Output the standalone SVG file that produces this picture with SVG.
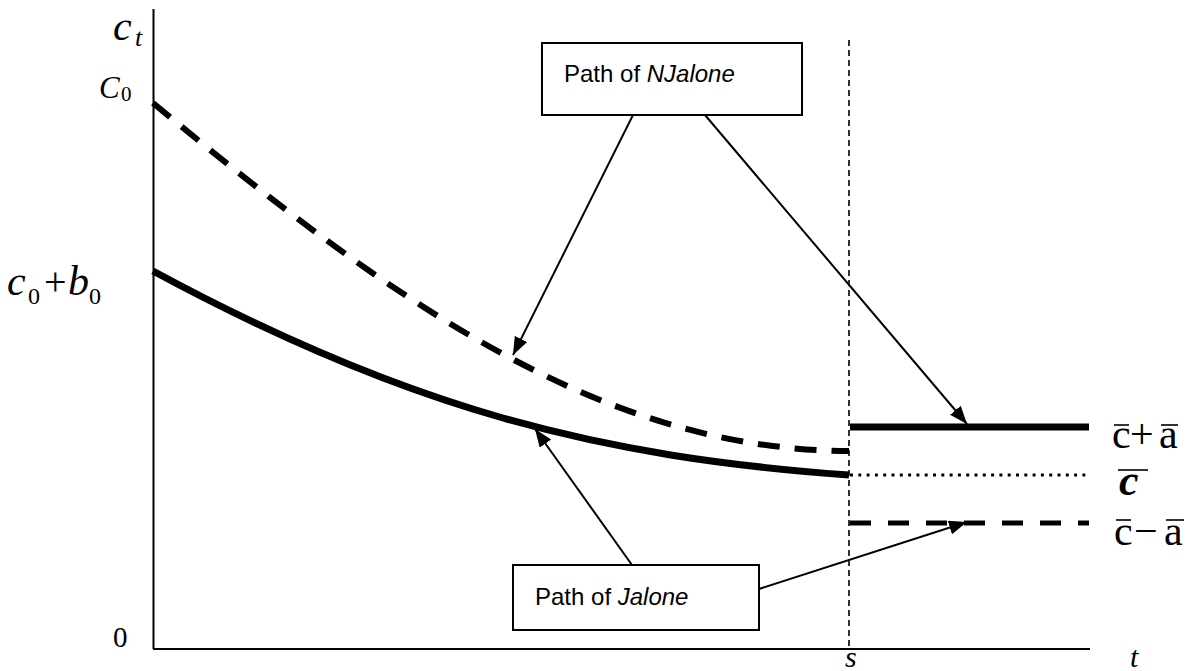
<svg xmlns="http://www.w3.org/2000/svg" width="1194" height="671" viewBox="0 0 1194 671">
<style>
.axis{stroke:#000;stroke-width:2;fill:none}
.vdash{stroke:#000;stroke-width:1.6;stroke-dasharray:6 4;fill:none}
.curve-dash{stroke:#000;stroke-width:6;stroke-dasharray:22 15;fill:none}
.curve-solid{stroke:#000;stroke-width:7;fill:none}
.hsolid{stroke:#000;stroke-width:7;fill:none}
.hdot{stroke:#000;stroke-width:3;stroke-dasharray:3 5.3;fill:none}
.hdash{stroke:#000;stroke-width:5;stroke-dasharray:21 17;fill:none}
.arrow{stroke:#000;stroke-width:2;fill:none;marker-end:url(#ah)}
.box{fill:#fff;stroke:#000;stroke-width:2}
.lbl{font-family:"Liberation Sans",Arial,sans-serif;font-size:24px;fill:#000}
.m{font-family:"Liberation Serif","Times New Roman",serif;fill:#000}
.it{font-style:italic}
.bar{stroke:#000;stroke-width:1.6}
</style>
<defs>
<marker id="ah" markerUnits="userSpaceOnUse" markerWidth="20" markerHeight="15" refX="18" refY="7" orient="auto">
<path d="M0,0 L18,7 L0,14 Z" fill="#000"/>
</marker>
</defs>
<rect width="1194" height="671" fill="#fff"/>
<g id="axes">
<line class="axis" x1="153.5" y1="9" x2="153.5" y2="649"/>
<line class="axis" x1="153" y1="649" x2="1090" y2="649"/>
<line class="vdash" x1="849" y1="40" x2="849" y2="649"/>
</g>
<g id="paths">
<path class="curve-dash" d="M153,103 C390,300 600,450 849,451"/>
<path class="curve-solid" d="M153,271 C408,409 599,457 849,475"/>
<line class="hsolid" x1="850" y1="427" x2="1089" y2="427"/>
<line class="hdot" x1="850" y1="475" x2="1087" y2="475"/>
<line class="hdash" x1="850" y1="523" x2="1089" y2="523"/>
</g>
<g id="connectors">
<line class="arrow" x1="633" y1="115" x2="513" y2="355"/>
<line class="arrow" x1="705" y1="115" x2="967" y2="424"/>
<line class="arrow" x1="632" y1="565" x2="535" y2="429"/>
<line class="arrow" x1="759" y1="589" x2="967" y2="522"/>
</g>
<g id="box-njalone">
<rect class="box" x="542" y="43" width="260" height="72"/>
<text class="lbl" x="564" y="82">Path of <tspan font-style="italic">NJalone</tspan></text>
</g>
<g id="box-jalone">
<rect class="box" x="513" y="565" width="246" height="65"/>
<text class="lbl" x="535" y="605">Path of <tspan font-style="italic">Jalone</tspan></text>
</g>
<g id="y-labels">
<text class="m it" x="113" y="40" font-size="42">c</text>
<text class="m it" x="135" y="46" font-size="26">t</text>
<text class="m it" x="99" y="98" font-size="31">C</text>
<text class="m" x="121" y="101" font-size="21">0</text>
<text class="m it" x="7" y="295" font-size="42">c</text>
<text class="m" x="28" y="304" font-size="24">0</text>
<text class="m" x="44" y="295" font-size="40">+</text>
<text class="m it" x="68" y="295" font-size="42">b</text>
<text class="m" x="89" y="304" font-size="24">0</text>
<text class="m" x="113" y="647" font-size="29">0</text>
</g>
<g id="x-labels">
<text class="m it" x="845" y="667" font-size="30">s</text>
<text class="m it" x="1130" y="667" font-size="30">t</text>
</g>
<g id="right-labels">
<text class="m" x="1112" y="448" font-size="42">c</text>
<text class="m" x="1130" y="448" font-size="42">+</text>
<text class="m" x="1159" y="448" font-size="42">a</text>
<line class="bar" x1="1114" y1="425" x2="1129" y2="425"/>
<line class="bar" x1="1161" y1="425" x2="1178" y2="425"/>
<text class="m it" x="1119" y="495" font-size="44" font-weight="bold">c</text>
<line class="bar" x1="1118" y1="470" x2="1148" y2="470" stroke-width="2.2"/>
<text class="m" x="1114" y="545" font-size="42">c</text>
<text class="m" x="1134" y="545" font-size="42">−</text>
<text class="m" x="1164" y="545" font-size="42">a</text>
<line class="bar" x1="1116" y1="520" x2="1131" y2="520"/>
<line class="bar" x1="1166" y1="520" x2="1184" y2="520"/>
</g>
</svg>
